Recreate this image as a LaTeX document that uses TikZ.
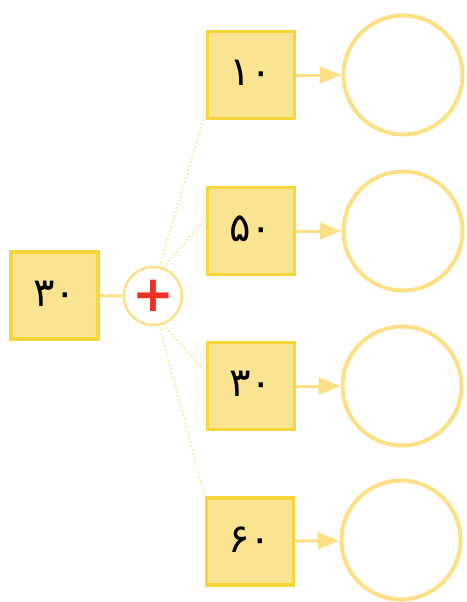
\documentclass[tikz,border=0pt]{standalone}
\usepackage{fontspec}
\usetikzlibrary{arrows.meta, positioning}
\newfontfamily\fadigits[Script=Arabic]{DejaVu Sans}
\newfontfamily\plusfont{DejaVu Sans}
\definecolor{boxfill}{HTML}{FAE491}
\definecolor{boxline}{HTML}{F7D53C}
\definecolor{ringline}{HTML}{FDE085}
\definecolor{plusred}{HTML}{EE3124}

\begin{document}
\begin{tikzpicture}[x=1pt, y=-1pt,
        numbox/.style={draw=boxline, fill=boxfill, line width=3.5pt, minimum size=87pt, inner sep=0pt,
            font=\fadigits\fontsize{40}{40}\selectfont, text depth=0pt},
        answer/.style={circle, draw=ringline, line width=4pt, minimum size=119pt, inner sep=0pt},
        plusring/.style={circle, draw=ringline, fill=white, line width=2.5pt, minimum size=58pt, inner sep=0pt,
            font=\plusfont\bfseries\fontsize{50}{50}\selectfont, text=plusred},
        joinline/.style={draw=ringline, line width=3pt},
        toanswer/.style={draw=ringline, line width=3pt, -{Triangle[length=22pt, width=17pt]}},
        spoke/.style={draw=ringline, line width=1.5pt, dash pattern=on 1.5pt off 2.5pt}]
    \useasboundingbox (0,0) rectangle (466,602);

    % left number and the plus
    \node[numbox] (start) at (54.5,295.5) {\raisebox{4pt}{۳۰}};
    \node[plusring] (plus) at (153,296) {+};
    \draw[joinline] (start) -- (plus);

    % the four numbers to add
    \node[numbox] (add1) at (251,75) {\raisebox{4pt}{۱۰}};
    \node[numbox] (add2) at (251,231) {\raisebox{4pt}{۵۰}};
    \node[numbox] (add3) at (251,386) {\raisebox{4pt}{۳۰}};
    \node[numbox] (add4) at (250,541.5) {\raisebox{4pt}{۶۰}};

    % empty answer rings
    \node[answer] (sum1) at (403,75) {};
    \node[answer] (sum2) at (403,231) {};
    \node[answer] (sum3) at (402,386) {};
    \node[answer] (sum4) at (401,540) {};

    \foreach \i in {1,...,4}
        \draw[toanswer] (add\i) -- (sum\i);

    % dotted spokes from the plus
    \draw[spoke] (plus.78) -- ([yshift=8pt]add1.south west);
    \draw[spoke] (plus.70) -- ([yshift=13pt]add2.west);
    \draw[spoke] (plus.-70) -- ([yshift=13pt]add3.west);
    \draw[spoke] (plus.-78) -- (add4.north west);
\end{tikzpicture}
\end{document}
